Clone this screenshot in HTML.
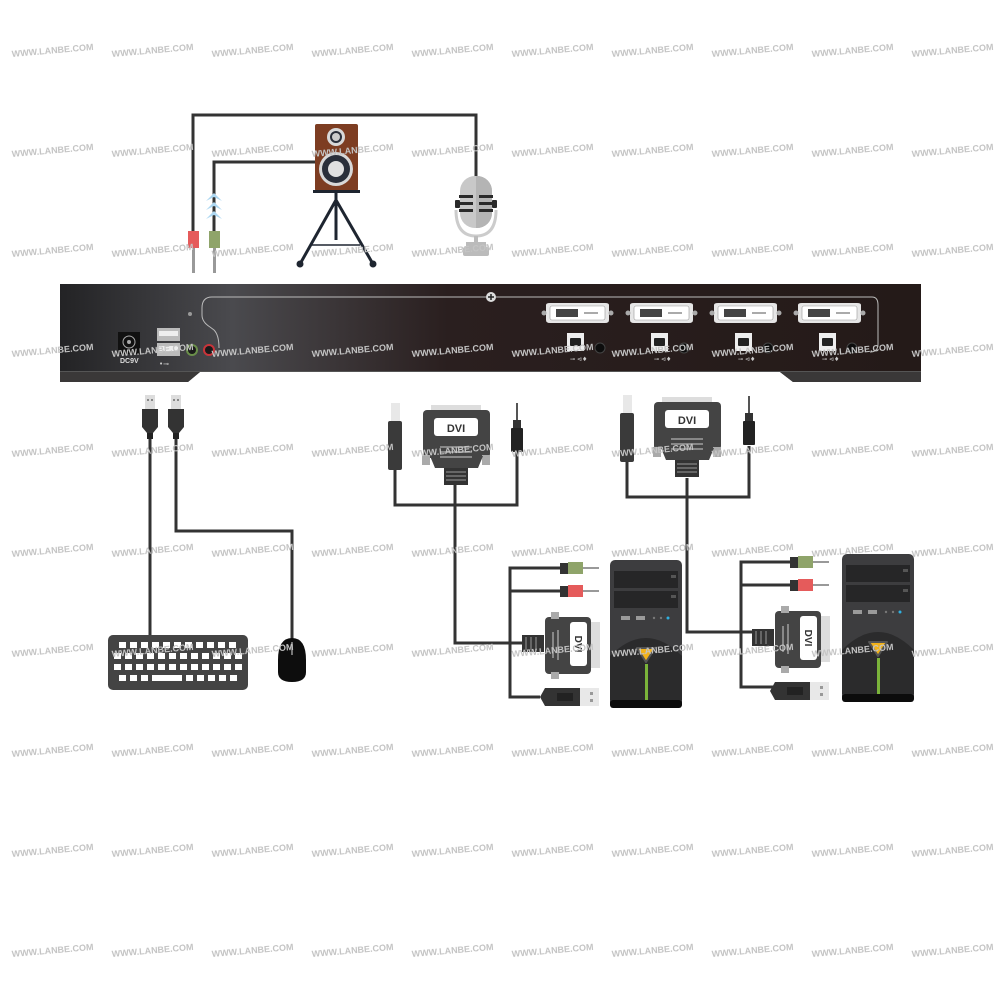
<!DOCTYPE html>
<html><head><meta charset="utf-8"><style>
html,body{margin:0;padding:0;background:#fff;width:1000px;height:1000px;overflow:hidden}
svg{display:block}
.wm{font-family:"Liberation Sans",sans-serif;font-size:9px;fill:#c4c4c4;font-weight:bold}
</style></head><body>
<svg width="1000" height="1000" viewBox="0 0 1000 1000" xmlns="http://www.w3.org/2000/svg">
<defs>
<linearGradient id="pg" x1="0" x2="1" y1="0" y2="0">
<stop offset="0" stop-color="#232325"/><stop offset="0.2" stop-color="#4a4a4e"/><stop offset="0.45" stop-color="#2a1f1f"/><stop offset="1" stop-color="#241a18"/>
</linearGradient>
<g id="pc">
<rect x="0" y="0" width="72" height="148" rx="5" fill="#3d3d3f"/>
<rect x="4" y="11" width="64" height="17" fill="#262627"/>
<rect x="4" y="31" width="64" height="17" fill="#262627"/>
<rect x="61" y="15" width="5" height="3" fill="#555"/>
<rect x="61" y="35" width="5" height="3" fill="#555"/>
<rect x="11" y="56" width="9" height="4" fill="#9a9a9a"/>
<rect x="26" y="56" width="9" height="4" fill="#9a9a9a"/>
<circle cx="44" cy="58" r="1.2" fill="#777"/><circle cx="51" cy="58" r="1.2" fill="#777"/><circle cx="58" cy="58" r="1.5" fill="#2fb0e0"/>
<path d="M0 96 Q36 60 72 96 L72 140 L0 140Z" fill="#2b2b2c"/>
<path d="M27 88 L45 88 L36 102Z" fill="#f2b21a" stroke="#555" stroke-width="2" stroke-linejoin="round"/>
<rect x="35" y="104" width="3" height="36" fill="#7ab33a"/>
<rect x="0" y="140" width="72" height="8" rx="3" fill="#0c0c0c"/>
</g>
<g id="usbv">
<rect x="-5" y="0" width="10" height="14" fill="#ddd"/>
<rect x="-3" y="4" width="2" height="2" fill="#888"/><rect x="1" y="4" width="2" height="2" fill="#888"/>
<path d="M-8 14 L8 14 L8 32 L3 38 L-3 38 L-8 32Z" fill="#333"/>
<rect x="-3" y="38" width="6" height="6" fill="#222"/>
</g>
</defs>
<rect width="1000" height="1000" fill="#fff"/>

<!-- top cables -->
<g fill="none" stroke="#333" stroke-width="3">
<polyline points="193,235 193,115 476,115 476,178"/>
<polyline points="214,235 214,162 316,162"/>
</g>
<!-- blue arrows -->
<g fill="#aed8f2">
<path d="M206 201 L214 193 L222 201 L214 197Z"/><path d="M206 210 L214 202 L222 210 L214 206Z"/><path d="M206 219 L214 211 L222 219 L214 215Z"/>
</g>
<!-- jacks -->
<rect x="188" y="231" width="11" height="17" fill="#e55b5b"/><rect x="192" y="248" width="3" height="25" fill="#999"/>
<rect x="209" y="231" width="11" height="17" fill="#8fa46a"/><rect x="213" y="248" width="3" height="25" fill="#999"/>
<!-- speaker -->
<rect x="315" y="124" width="43" height="67" rx="2" fill="#7d3d22"/>
<circle cx="336" cy="137" r="9" fill="#d8d8d8"/><circle cx="336" cy="137" r="6" fill="#2a2f3a"/><circle cx="336" cy="137" r="4" fill="#ccc"/>
<circle cx="336" cy="169" r="17" fill="#d8d8d8"/><circle cx="336" cy="169" r="14" fill="#2a2f3a"/><circle cx="336" cy="169" r="8" fill="#e0e0e0"/>
<rect x="313" y="190" width="47" height="3" fill="#1e2530"/>
<g stroke="#1e2530" stroke-width="3" fill="none"><line x1="336" y1="192" x2="336" y2="240"/><line x1="336" y1="200" x2="300" y2="264"/><line x1="336" y1="200" x2="373" y2="264"/><line x1="312" y1="245" x2="360" y2="245" stroke-width="1.5"/></g>
<circle cx="300" cy="264" r="3.5" fill="#1e2530"/><circle cx="373" cy="264" r="3.5" fill="#1e2530"/>
<!-- mic -->
<path d="M456 210 Q456 236 476 236 Q496 236 496 210" fill="none" stroke="#ccc" stroke-width="3"/>
<rect x="474" y="236" width="4" height="6" fill="#bbb"/><rect x="466" y="242" width="20" height="5" fill="#bbb"/><rect x="463" y="247" width="26" height="9" rx="2" fill="#bbb"/>
<rect x="460" y="176" width="32" height="52" rx="15" fill="#c8c8c8"/><path d="M476 176 h1 a15 15 0 0 1 15 15 v22 a15 15 0 0 1 -15 15 h-1Z" fill="#b4b4b4"/>
<g fill="#2a2a2a"><rect x="459" y="195" width="14" height="3"/><rect x="479" y="195" width="14" height="3"/><rect x="459" y="202" width="14" height="3"/><rect x="479" y="202" width="14" height="3"/><rect x="459" y="209" width="14" height="3"/><rect x="479" y="209" width="14" height="3"/><rect x="455" y="200" width="5" height="8" rx="1"/><rect x="492" y="200" width="5" height="8" rx="1"/></g>

<!-- panel -->
<path d="M60 284 L921 284 L921 382 L793 382 L780 372 L200 372 L188 382 L60 382Z" fill="url(#pg)"/>
<path d="M60 372 L921 372 L921 382 L793 382 L780 372 L200 372 L188 382 L60 382Z" fill="#3a3838"/>
<rect x="60" y="371" width="861" height="1" fill="#555"/>
<path d="M202 308 Q202 297 212 297 L872 297 Q878 297 878 305 L878 344 Q878 352 870 352" fill="none" stroke="#bbb" stroke-width="1"/>
<path d="M202 308 L202 315 Q202 322 210 327 L214 330 Q219 335 219 348" fill="none" stroke="#bbb" stroke-width="1"/>
<circle cx="491" cy="297" r="5" fill="#ddd"/><path d="M488 297h6M491 294v6" stroke="#222" stroke-width="1.5"/>
<circle cx="190" cy="314" r="2" fill="#999"/>
<rect x="118" y="332" width="22" height="22" fill="#111"/><circle cx="129" cy="342" r="6" fill="none" stroke="#aaa" stroke-width="1"/><circle cx="129" cy="342" r="2" fill="#aaa"/>
<text x="120" y="363" font-family="Liberation Sans,sans-serif" font-size="7" font-weight="bold" fill="#ddd">DC9V</text>
<rect x="157" y="328" width="23" height="13" fill="#bbb"/><rect x="159" y="331" width="19" height="5" fill="#eee"/>
<rect x="157" y="343" width="23" height="13" fill="#bbb"/><rect x="159" y="346" width="19" height="5" fill="#eee"/>
<text x="159" y="366" font-size="7" fill="#ccc" font-family="DejaVu Sans,sans-serif">•⊸</text>
<circle cx="192" cy="350" r="6" fill="#6a8f4a"/><circle cx="192" cy="350" r="4" fill="#1a1a1a"/>
<circle cx="209" cy="350" r="6" fill="#c8343a"/><circle cx="209" cy="350" r="4" fill="#1a1a1a"/>
<g id="port">
<path d="M546 305 Q546 303 550 303 L605 303 Q609 303 609 305 L609 320 Q609 323 605 323 L550 323 Q546 323 546 320Z" fill="#e6e6e6"/>
<rect x="550" y="306" width="55" height="14" rx="2" fill="#fff" stroke="#999" stroke-width="0.6"/>
<rect x="556" y="309" width="22" height="8" fill="#444"/>
<rect x="584" y="312" width="14" height="2" fill="#aaa"/>
<circle cx="544" cy="313" r="2.5" fill="#aaa"/><circle cx="611" cy="313" r="2.5" fill="#aaa"/>
<rect x="567" y="333" width="17" height="18" fill="#eee"/><rect x="570" y="338" width="11" height="8" rx="1" fill="#222"/>
<circle cx="600" cy="348" r="5" fill="#0d0d0d" stroke="#444"/>
<text x="570" y="361" font-size="6" fill="#ccc" font-family="DejaVu Sans,sans-serif">⊸  ⊲♦</text>
</g>
<use href="#port" x="84"/><use href="#port" x="168"/><use href="#port" x="252"/>

<!-- keyboard / mouse -->
<g fill="none" stroke="#333" stroke-width="3">
<line x1="150" y1="435" x2="150" y2="635"/>
<polyline points="176,435 176,531 292,531 292,642"/>
</g>
<use href="#usbv" x="150" y="395"/><use href="#usbv" x="176" y="395"/>
<rect x="108" y="635" width="140" height="55" rx="5" fill="#444"/>
<g fill="#fff">
<rect x="119" y="642" width="7" height="6"/><rect x="130" y="642" width="7" height="6"/><rect x="141" y="642" width="7" height="6"/><rect x="152" y="642" width="7" height="6"/><rect x="163" y="642" width="7" height="6"/><rect x="174" y="642" width="7" height="6"/><rect x="185" y="642" width="7" height="6"/><rect x="196" y="642" width="7" height="6"/><rect x="207" y="642" width="7" height="6"/><rect x="218" y="642" width="7" height="6"/><rect x="229" y="642" width="7" height="6"/>
<rect x="114" y="653" width="7" height="6"/><rect x="125" y="653" width="7" height="6"/><rect x="136" y="653" width="7" height="6"/><rect x="147" y="653" width="7" height="6"/><rect x="158" y="653" width="7" height="6"/><rect x="169" y="653" width="7" height="6"/><rect x="180" y="653" width="7" height="6"/><rect x="191" y="653" width="7" height="6"/><rect x="202" y="653" width="7" height="6"/><rect x="213" y="653" width="7" height="6"/><rect x="224" y="653" width="7" height="6"/><rect x="235" y="653" width="7" height="6"/>
<rect x="114" y="664" width="7" height="6"/><rect x="125" y="664" width="7" height="6"/><rect x="136" y="664" width="7" height="6"/><rect x="147" y="664" width="7" height="6"/><rect x="158" y="664" width="7" height="6"/><rect x="169" y="664" width="7" height="6"/><rect x="180" y="664" width="7" height="6"/><rect x="191" y="664" width="7" height="6"/><rect x="202" y="664" width="7" height="6"/><rect x="213" y="664" width="7" height="6"/><rect x="224" y="664" width="7" height="6"/><rect x="235" y="664" width="7" height="6"/>
<rect x="119" y="675" width="7" height="6"/><rect x="130" y="675" width="7" height="6"/><rect x="141" y="675" width="7" height="6"/><rect x="152" y="675" width="30" height="6"/><rect x="186" y="675" width="7" height="6"/><rect x="197" y="675" width="7" height="6"/><rect x="208" y="675" width="7" height="6"/><rect x="219" y="675" width="7" height="6"/><rect x="230" y="675" width="7" height="6"/>
</g>
<path d="M278 660 Q278 638 292 638 Q306 638 306 660 L306 672 Q306 682 292 682 Q278 682 278 672Z" fill="#0d0d0d"/>
<line x1="292" y1="642" x2="292" y2="655" stroke="#999" stroke-width="1.5"/>

<!-- group cables -->
<g fill="none" stroke="#333" stroke-width="3">
<polyline points="395,470 395,505 517,505 517,452"/>
<polyline points="455,485 455,643 522,643"/>
<polyline points="560,568 510,568 510,697 540,697"/>
<line x1="510" y1="591" x2="560" y2="591"/>
<polyline points="627,462 627,497 749,497 749,446"/>
<polyline points="687,478 687,632 752,632"/>
<polyline points="790,562 741,562 741,687 775,687"/>
<line x1="741" y1="585" x2="790" y2="585"/>
</g>
<!-- top USB B plugs & jacks -->
<rect x="391" y="403" width="9" height="18" fill="#e8e8e8"/><rect x="388" y="421" width="14" height="49" rx="2" fill="#3a3a3a"/>
<rect x="623" y="395" width="9" height="18" fill="#e8e8e8"/><rect x="620" y="413" width="14" height="49" rx="2" fill="#3a3a3a"/>
<g id="jk"><rect x="516" y="403" width="2" height="17" fill="#555"/><rect x="513" y="420" width="8" height="8" fill="#333"/><rect x="511" y="428" width="12" height="24" rx="1" fill="#222"/></g>
<use href="#jk" x="232" y="-7"/>
<!-- vertical DVI plugs -->
<g id="dviv">
<rect x="431" y="405" width="50" height="10" fill="#ddd"/>
<rect x="423" y="410" width="67" height="48" rx="4" fill="#444"/>
<rect x="422" y="455" width="8" height="10" fill="#aaa"/><rect x="482" y="455" width="8" height="10" fill="#aaa"/>
<path d="M430 456 L483 456 L478 468 L435 468Z" fill="#444"/>
<rect x="434" y="418" width="44" height="18" rx="3" fill="#fff"/>
<rect x="440" y="446" width="32" height="2" fill="#888"/><rect x="440" y="451" width="32" height="2" fill="#888"/><rect x="440" y="456" width="32" height="2" fill="#888"/>
<rect x="444" y="468" width="24" height="17" fill="#333"/>
<rect x="446" y="471" width="20" height="2" fill="#666"/><rect x="446" y="475" width="20" height="2" fill="#666"/><rect x="446" y="479" width="20" height="2" fill="#666"/>
</g>
<text x="456" y="432" text-anchor="middle" font-family="Liberation Sans,sans-serif" font-weight="bold" font-size="11" fill="#333">DVI</text>
<use href="#dviv" x="231" y="-8"/>
<text x="687" y="424" text-anchor="middle" font-family="Liberation Sans,sans-serif" font-weight="bold" font-size="11" fill="#333">DVI</text>

<!-- PC side connectors group 1 -->
<g id="side">
<rect x="560" y="563" width="10" height="11" fill="#333"/><rect x="568" y="562" width="15" height="12" fill="#8fa46a"/><rect x="583" y="567" width="16" height="2" fill="#999"/>
<rect x="560" y="586" width="10" height="11" fill="#333"/><rect x="568" y="585" width="15" height="12" fill="#e55b5b"/><rect x="583" y="590" width="16" height="2" fill="#999"/>
<rect x="522" y="635" width="22" height="17" fill="#333"/>
<rect x="525" y="637" width="2" height="13" fill="#666"/><rect x="530" y="637" width="2" height="13" fill="#666"/><rect x="535" y="637" width="2" height="13" fill="#666"/>
<rect x="545" y="617" width="46" height="57" rx="4" fill="#444"/>
<rect x="551" y="612" width="8" height="7" fill="#aaa"/><rect x="551" y="672" width="8" height="7" fill="#aaa"/>
<rect x="591" y="622" width="9" height="46" fill="#ddd"/>
<rect x="570" y="622" width="17" height="44" rx="3" fill="#fff"/>
<rect x="552" y="632" width="2" height="26" fill="#888"/><rect x="557" y="630" width="2" height="30" fill="#888"/>
<path d="M540 697 L545 688 L580 688 L580 706 L545 706Z" fill="#333"/>
<rect x="580" y="688" width="19" height="18" fill="#e8e8e8"/>
<rect x="590" y="692" width="3" height="3" fill="#999"/><rect x="590" y="699" width="3" height="3" fill="#999"/>
<rect x="557" y="693" width="16" height="8" fill="#222"/>
</g>
<text transform="translate(575,644) rotate(90)" text-anchor="middle" font-family="Liberation Sans,sans-serif" font-weight="bold" font-size="10" fill="#333">DVI</text>
<use href="#side" x="230" y="-6"/>
<text transform="translate(805,638) rotate(90)" text-anchor="middle" font-family="Liberation Sans,sans-serif" font-weight="bold" font-size="10" fill="#333">DVI</text>
<use href="#pc" x="610" y="560"/>
<use href="#pc" x="842" y="554"/>

<!-- watermarks -->
<g class="wm">
<g id="wmr">
<text transform="translate(12,57) rotate(-5)">WWW.LANBE.COM</text><text transform="translate(112,57) rotate(-5)">WWW.LANBE.COM</text><text transform="translate(212,57) rotate(-5)">WWW.LANBE.COM</text><text transform="translate(312,57) rotate(-5)">WWW.LANBE.COM</text><text transform="translate(412,57) rotate(-5)">WWW.LANBE.COM</text><text transform="translate(512,57) rotate(-5)">WWW.LANBE.COM</text><text transform="translate(612,57) rotate(-5)">WWW.LANBE.COM</text><text transform="translate(712,57) rotate(-5)">WWW.LANBE.COM</text><text transform="translate(812,57) rotate(-5)">WWW.LANBE.COM</text><text transform="translate(912,57) rotate(-5)">WWW.LANBE.COM</text>
</g>
<g transform="translate(0,100)"><text transform="translate(12,57) rotate(-5)">WWW.LANBE.COM</text><text transform="translate(112,57) rotate(-5)">WWW.LANBE.COM</text><text transform="translate(212,57) rotate(-5)">WWW.LANBE.COM</text><text transform="translate(312,57) rotate(-5)">WWW.LANBE.COM</text><text transform="translate(412,57) rotate(-5)">WWW.LANBE.COM</text><text transform="translate(512,57) rotate(-5)">WWW.LANBE.COM</text><text transform="translate(612,57) rotate(-5)">WWW.LANBE.COM</text><text transform="translate(712,57) rotate(-5)">WWW.LANBE.COM</text><text transform="translate(812,57) rotate(-5)">WWW.LANBE.COM</text><text transform="translate(912,57) rotate(-5)">WWW.LANBE.COM</text></g>
<g transform="translate(0,200)"><text transform="translate(12,57) rotate(-5)">WWW.LANBE.COM</text><text transform="translate(112,57) rotate(-5)">WWW.LANBE.COM</text><text transform="translate(212,57) rotate(-5)">WWW.LANBE.COM</text><text transform="translate(312,57) rotate(-5)">WWW.LANBE.COM</text><text transform="translate(412,57) rotate(-5)">WWW.LANBE.COM</text><text transform="translate(512,57) rotate(-5)">WWW.LANBE.COM</text><text transform="translate(612,57) rotate(-5)">WWW.LANBE.COM</text><text transform="translate(712,57) rotate(-5)">WWW.LANBE.COM</text><text transform="translate(812,57) rotate(-5)">WWW.LANBE.COM</text><text transform="translate(912,57) rotate(-5)">WWW.LANBE.COM</text></g>
<g transform="translate(0,300)"><text transform="translate(12,57) rotate(-5)">WWW.LANBE.COM</text><text transform="translate(112,57) rotate(-5)">WWW.LANBE.COM</text><text transform="translate(212,57) rotate(-5)">WWW.LANBE.COM</text><text transform="translate(312,57) rotate(-5)">WWW.LANBE.COM</text><text transform="translate(412,57) rotate(-5)">WWW.LANBE.COM</text><text transform="translate(512,57) rotate(-5)">WWW.LANBE.COM</text><text transform="translate(612,57) rotate(-5)">WWW.LANBE.COM</text><text transform="translate(712,57) rotate(-5)">WWW.LANBE.COM</text><text transform="translate(812,57) rotate(-5)">WWW.LANBE.COM</text><text transform="translate(912,57) rotate(-5)">WWW.LANBE.COM</text></g>
<g transform="translate(0,400)"><text transform="translate(12,57) rotate(-5)">WWW.LANBE.COM</text><text transform="translate(112,57) rotate(-5)">WWW.LANBE.COM</text><text transform="translate(212,57) rotate(-5)">WWW.LANBE.COM</text><text transform="translate(312,57) rotate(-5)">WWW.LANBE.COM</text><text transform="translate(412,57) rotate(-5)">WWW.LANBE.COM</text><text transform="translate(512,57) rotate(-5)">WWW.LANBE.COM</text><text transform="translate(612,57) rotate(-5)">WWW.LANBE.COM</text><text transform="translate(712,57) rotate(-5)">WWW.LANBE.COM</text><text transform="translate(812,57) rotate(-5)">WWW.LANBE.COM</text><text transform="translate(912,57) rotate(-5)">WWW.LANBE.COM</text></g>
<g transform="translate(0,500)"><text transform="translate(12,57) rotate(-5)">WWW.LANBE.COM</text><text transform="translate(112,57) rotate(-5)">WWW.LANBE.COM</text><text transform="translate(212,57) rotate(-5)">WWW.LANBE.COM</text><text transform="translate(312,57) rotate(-5)">WWW.LANBE.COM</text><text transform="translate(412,57) rotate(-5)">WWW.LANBE.COM</text><text transform="translate(512,57) rotate(-5)">WWW.LANBE.COM</text><text transform="translate(612,57) rotate(-5)">WWW.LANBE.COM</text><text transform="translate(712,57) rotate(-5)">WWW.LANBE.COM</text><text transform="translate(812,57) rotate(-5)">WWW.LANBE.COM</text><text transform="translate(912,57) rotate(-5)">WWW.LANBE.COM</text></g>
<g transform="translate(0,600)"><text transform="translate(12,57) rotate(-5)">WWW.LANBE.COM</text><text transform="translate(112,57) rotate(-5)">WWW.LANBE.COM</text><text transform="translate(212,57) rotate(-5)">WWW.LANBE.COM</text><text transform="translate(312,57) rotate(-5)">WWW.LANBE.COM</text><text transform="translate(412,57) rotate(-5)">WWW.LANBE.COM</text><text transform="translate(512,57) rotate(-5)">WWW.LANBE.COM</text><text transform="translate(612,57) rotate(-5)">WWW.LANBE.COM</text><text transform="translate(712,57) rotate(-5)">WWW.LANBE.COM</text><text transform="translate(812,57) rotate(-5)">WWW.LANBE.COM</text><text transform="translate(912,57) rotate(-5)">WWW.LANBE.COM</text></g>
<g transform="translate(0,700)"><text transform="translate(12,57) rotate(-5)">WWW.LANBE.COM</text><text transform="translate(112,57) rotate(-5)">WWW.LANBE.COM</text><text transform="translate(212,57) rotate(-5)">WWW.LANBE.COM</text><text transform="translate(312,57) rotate(-5)">WWW.LANBE.COM</text><text transform="translate(412,57) rotate(-5)">WWW.LANBE.COM</text><text transform="translate(512,57) rotate(-5)">WWW.LANBE.COM</text><text transform="translate(612,57) rotate(-5)">WWW.LANBE.COM</text><text transform="translate(712,57) rotate(-5)">WWW.LANBE.COM</text><text transform="translate(812,57) rotate(-5)">WWW.LANBE.COM</text><text transform="translate(912,57) rotate(-5)">WWW.LANBE.COM</text></g>
<g transform="translate(0,800)"><text transform="translate(12,57) rotate(-5)">WWW.LANBE.COM</text><text transform="translate(112,57) rotate(-5)">WWW.LANBE.COM</text><text transform="translate(212,57) rotate(-5)">WWW.LANBE.COM</text><text transform="translate(312,57) rotate(-5)">WWW.LANBE.COM</text><text transform="translate(412,57) rotate(-5)">WWW.LANBE.COM</text><text transform="translate(512,57) rotate(-5)">WWW.LANBE.COM</text><text transform="translate(612,57) rotate(-5)">WWW.LANBE.COM</text><text transform="translate(712,57) rotate(-5)">WWW.LANBE.COM</text><text transform="translate(812,57) rotate(-5)">WWW.LANBE.COM</text><text transform="translate(912,57) rotate(-5)">WWW.LANBE.COM</text></g>
<g transform="translate(0,900)"><text transform="translate(12,57) rotate(-5)">WWW.LANBE.COM</text><text transform="translate(112,57) rotate(-5)">WWW.LANBE.COM</text><text transform="translate(212,57) rotate(-5)">WWW.LANBE.COM</text><text transform="translate(312,57) rotate(-5)">WWW.LANBE.COM</text><text transform="translate(412,57) rotate(-5)">WWW.LANBE.COM</text><text transform="translate(512,57) rotate(-5)">WWW.LANBE.COM</text><text transform="translate(612,57) rotate(-5)">WWW.LANBE.COM</text><text transform="translate(712,57) rotate(-5)">WWW.LANBE.COM</text><text transform="translate(812,57) rotate(-5)">WWW.LANBE.COM</text><text transform="translate(912,57) rotate(-5)">WWW.LANBE.COM</text></g>
</g>
</svg>
</body></html>
